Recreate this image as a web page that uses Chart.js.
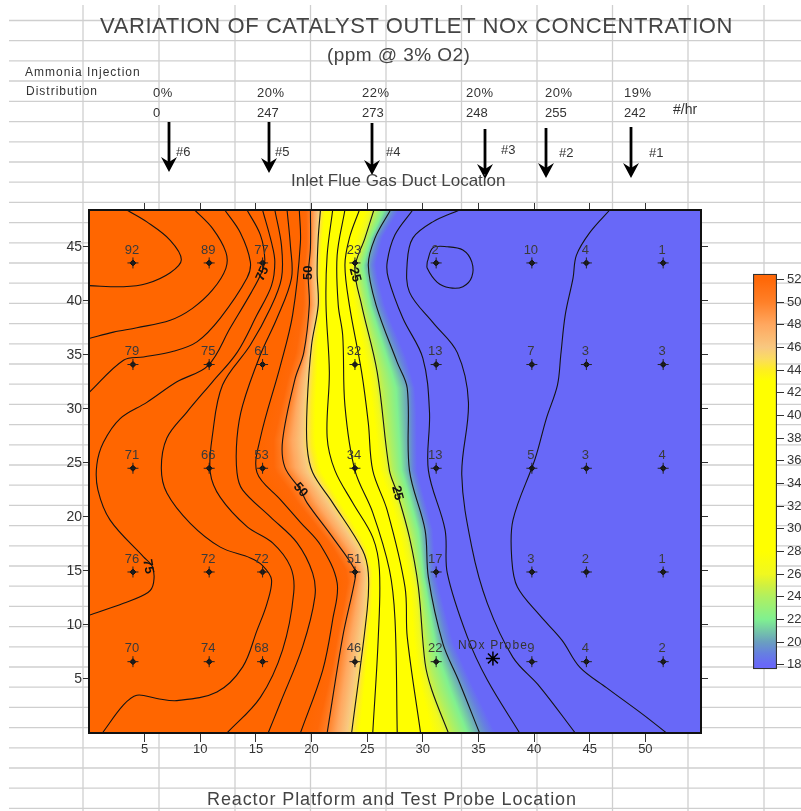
<!DOCTYPE html>
<html>
<head>
<meta charset="utf-8">
<title>Catalyst outlet NOx</title>
<script src="https://cdn.jsdelivr.net/npm/chart.js@4"></script>
<style>
  html, body { margin: 0; padding: 0; background: #fff; overflow: hidden; }
  #page { position: relative; width: 801px; height: 811px; overflow: hidden; font-family: "Liberation Sans", Arial, sans-serif; }
  canvas { position: absolute; }
  .txt { position: absolute; white-space: nowrap; color: #333; transform: translateY(-50%); }
</style>
</head>
<body>
<div id="page">
  <canvas id="myChart" width="801" height="811" style="left:0;top:0"></canvas>
  <canvas id="barChart" width="84" height="417" style="left:753px;top:263px"></canvas>
</div>
<script>
// probe grid
const probeX = [3.95, 10.8, 15.6, 23.9, 31.2, 39.8, 44.7, 51.6];
const probeY = [43.5, 34.1, 24.5, 14.9, 6.6];
const probeValues = [
  [92, 89, 77, 23, 2, 10, 4, 1],
  [79, 75, 61, 32, 13, 7, 3, 3],
  [71, 66, 53, 34, 13, 5, 3, 4],
  [76, 72, 72, 51, 17, 3, 2, 1],
  [70, 74, 68, 46, 22, 9, 4, 2]
];
const noxProbe = [{ x: 36.3, y: 6.9 }];

// contour lines, [x, y]
const line90 = [[3.4,48.4],[5.2,47.3],[7.3,45.6],[8.3,43.8],[7.3,42.6],[5.2,41.6],[3.1,41.3],[0,41.4]];
const line85 = [[9.5,48.4],[11.1,46.7],[12.3,44.5],[12.3,43.0],[11.1,41.0],[9.3,39.3],[7.3,38.2],[4.3,37.5],[2.2,37.1],[0,36.5]];
const line80 = [[12.2,48.4],[13.6,46.3],[14.5,43.6],[14.2,42.1],[11.8,38.4],[9.7,36.2],[7.5,35.3],[4.9,34.8],[3.1,34.5],[0,31.5]];
const line75 = [[14.2,48.4],[15.4,46.1],[15.8,43.8],[15.5,42.6],[14.6,40.8],[12.7,37.5],[10.7,34.0],[7.9,32.5],[5.2,30.6],[2.8,29.1],[1.3,26.9],[0.7,24.8],[0.8,22.5],[1.9,19.7],[4.9,16.3],[5.7,15.4],[5.8,13.9],[5.3,13.0],[3.1,12.0],[0,10.9]];
const line70 = [[15.6,48.4],[16.4,45.4],[16.7,43.6],[16.4,41.4],[15.1,38.7],[13.3,35.2],[11.1,32.5],[8.8,29.7],[7.0,27.3],[6.5,24.5],[7.0,22.2],[9.1,19.4],[11.8,17.2],[14.5,16.2],[15.6,15.5],[16.4,14.2],[16.0,12.0],[15.1,9.5],[13.8,6.1],[11.5,3.8],[7.9,3.0],[6.1,3.2],[4.3,3.5],[3.1,2.6],[1.2,0]];
const line65 = [[16.7,48.4],[17.3,45.1],[17.3,42.1],[16.3,39.3],[14.5,35.9],[12.0,32.2],[11.1,27.6],[10.9,24.1],[11.8,21.8],[14.2,19.1],[16.5,17.6],[18.1,15.4],[18.4,13.0],[17.4,7.7],[15.4,3.3],[12.4,0]];
const line60 = [[17.8,48.4],[18.1,45.1],[18.2,42.1],[16.9,38.4],[15.4,35.0],[13.8,30.3],[13.3,27.3],[13.3,24.1],[13.8,22.5],[16.3,20.0],[18.7,17.6],[20.1,14.8],[20.3,12.6],[19.2,8.0],[17.2,2.8],[16.1,0]];
const line55 = [[18.9,48.4],[19.0,45.4],[18.3,38.7],[17.2,34.0],[15.4,27.3],[15.1,24.1],[17.2,21.6],[19.0,19.5],[20.8,17.4],[22.3,13.9],[21.9,10.5],[21.0,5.8],[19.0,0]];
const line50 = [[19.9,48.4],[19.9,44.9],[19.7,42.4],[19.8,39.6],[19.3,35.2],[18.5,32.7],[17.4,27.1],[17.6,24.6],[19.0,22.5],[19.6,21.3],[21.9,18.1],[23.9,15.1],[23.9,14.2],[22.8,8.9],[21.4,0]];
const line45 = [[20.8,48.4],[20.6,45.8],[20.5,42.6],[20.6,39.6],[20.0,35.9],[19.6,30.3],[19.6,26.5],[20.1,24.1],[21.9,21.3],[24.6,16.9],[25.1,14.8],[25.0,11.4],[23.6,0]];
const line40 = [[21.9,48.4],[21.4,44.2],[21.3,39.6],[21.6,33.4],[21.4,27.4],[22.1,24.3],[23.7,21.3],[25.5,18.1],[26.1,15.1],[26.0,8.9],[25.5,0]];
const line35 = [[23.0,48.4],[22.3,44.2],[22.4,39.6],[22.8,36.8],[23.0,30.3],[23.9,24.3],[25.5,20.4],[27.0,15.1],[27.5,10.5],[27.7,0]];
const line30 = [[24.3,48.4],[23.4,45.8],[23.0,43.3],[23.4,39.6],[24.5,33.4],[25.1,28.7],[25.5,24.3],[26.8,20.6],[28.4,13.5],[28.6,8.9],[29.8,0]];
const line25 = [[25.6,48.4],[24.8,45.8],[23.9,43.0],[24.5,39.6],[25.9,33.4],[27.0,24.3],[27.7,22.2],[28.8,18.1],[29.6,13.5],[30.2,6.5],[30.8,4.0],[32.3,0]];
const line20 = [[27.1,48.4],[25.7,45.8],[25.1,43.3],[25.8,39.6],[27.7,34.3],[28.6,31.9],[28.8,24.3],[30.2,18.8],[30.5,14.4],[31.8,8.3],[33.2,4.9],[35.1,0]];
const line15 = [[29.1,48.4],[27.5,46.1],[26.8,43.6],[26.9,42.1],[28.2,38.4],[30.0,34.7],[30.6,29.7],[30.5,24.3],[32.0,18.8],[32.2,14.8],[34.0,8.9],[35.8,4.9],[38.7,0]];
const line10 = [[33.3,48.4],[30.9,47.3],[29.1,45.8],[28.6,43.6],[28.8,40.8],[30.9,38.0],[33.1,35.2],[34.1,30.6],[33.5,23.9],[34.4,17.2],[35.8,12.0],[38.1,7.0],[40.5,4.3],[43.7,0]];
const line5 = [[46.8,48.4],[45.0,46.3],[43.8,44.2],[43.5,42.1],[42.8,38.7],[42.4,35.0],[42.1,32.2],[41.1,29.1],[40.1,25.4],[38.1,19.7],[38.0,16.0],[38.5,13.5],[40.5,10.9],[42.5,8.6],[44.1,6.1],[46.5,4.2],[49.8,1.7],[51.9,0]];
const loop5 = [[30.4,43.6],[30.9,44.9],[32.2,45.0],[33.6,44.7],[34.4,43.6],[34.4,42.2],[33.6,41.3],[32.4,41.2],[31.3,41.7],[30.4,43.0],[30.4,43.6]];

const allLines = [line90, line85, line80, line75, line70, line65, line60, line55, line50, line45, line40, line35, line30, line25, line20, line15, line10, line5, loop5];
// these ones run top to bottom and set the colour field
const fieldLevels = [55, 50, 45, 40, 35, 30, 25, 20, 15];
const fieldLines = [line55, line50, line45, line40, line35, line30, line25, line20, line15];

const contourLabels = [
  { text: '75', x: 15.6, y: 42.5, rot: -65 },
  { text: '75', x: 5.3, y: 15.4, rot: 80 },
  { text: '50', x: 19.7, y: 42.6, rot: -90 },
  { text: '50', x: 19.0, y: 22.5, rot: 50 },
  { text: '25', x: 23.9, y: 42.4, rot: 75 },
  { text: '25', x: 27.7, y: 22.2, rot: 75 }
];

// colour scale
const colorLevels = [55, 52, 50, 48, 46, 45, 44, 43, 28, 26, 25, 24, 22, 20, 19, 18, 15];
const colorStops = ['#ff6600', '#ff6808', '#ff8028', '#ffa860', '#f8c880', '#fbdc60', '#feef20', '#ffff00', '#ffff00', '#f0f820', '#d0f040', '#b0f060', '#80f090', '#6a9fc0', '#6680e0', '#6868f8', '#6868f8'];
const barTicks = [18, 20, 22, 24, 26, 28, 30, 32, 34, 36, 38, 40, 42, 44, 46, 48, 50, 52];
const barRange = [17.6, 52.5];

const xTicks = [5, 10, 15, 20, 25, 30, 35, 40, 45, 50];
const yTicks = [5, 10, 15, 20, 25, 30, 35, 40, 45];

// spreadsheet cell lines behind the chart
const sheetCols = [83, 159, 235, 310.5, 386, 461.5, 537, 612.5, 688, 764];
const sheetRows = [20.5, 40.7, 60.9, 81, 101.3, 121.6, 141.8, 162, 182.2, 202.4, 222.6, 242.8, 263, 283.2, 303.4, 323.6, 343.8, 364, 384.2, 404.4, 424.6, 444.8, 465, 485.2, 505.4, 525.6, 545.8, 566, 586.2, 606.4, 626.6, 646.8, 667, 687.2, 707.4, 727.6, 747.8, 768, 788.2, 808.4];

// injection lance arrows: x, top, bottom in page pixels
const arrows = [[169, 122, 172], [269, 122, 173], [372, 123, 175], [485, 129, 179], [546, 128, 178], [631, 127, 178]];

const pageTexts = [
  { t: 'VARIATION OF CATALYST OUTLET NOx CONCENTRATION', x: 100, y: 26, size: 22, ls: 0.6, color: '#444' },
  { t: '(ppm @ 3% O2)', x: 327, y: 55, size: 19, ls: 0.45, color: '#444' },
  { t: 'Ammonia Injection', x: 25, y: 72, size: 12, ls: 1 },
  { t: 'Distribution', x: 26, y: 91, size: 12, ls: 1 },
  { t: '0%', x: 153, y: 92, size: 13, ls: 0.5 }, { t: '20%', x: 257, y: 92, size: 13, ls: 0.5 }, { t: '22%', x: 362, y: 92, size: 13, ls: 0.5 },
  { t: '20%', x: 466, y: 92, size: 13, ls: 0.5 }, { t: '20%', x: 545, y: 92, size: 13, ls: 0.5 }, { t: '19%', x: 624, y: 92, size: 13, ls: 0.5 },
  { t: '0', x: 153, y: 112, size: 13 }, { t: '247', x: 257, y: 112, size: 13 }, { t: '273', x: 362, y: 112, size: 13 },
  { t: '248', x: 466, y: 112, size: 13 }, { t: '255', x: 545, y: 112, size: 13 }, { t: '242', x: 624, y: 112, size: 13 },
  { t: '#/hr', x: 673, y: 109, size: 14 },
  { t: '#6', x: 176, y: 151, size: 13 }, { t: '#5', x: 275, y: 151, size: 13 }, { t: '#4', x: 386, y: 151, size: 13 },
  { t: '#3', x: 501, y: 149, size: 13 }, { t: '#2', x: 559, y: 152, size: 13 }, { t: '#1', x: 649, y: 152, size: 13 },
  { t: 'Inlet Flue Gas Duct Location', x: 291, y: 181, size: 17, color: '#444' },
  { t: 'Reactor Platform and Test Probe Location', x: 207, y: 799, size: 18, ls: 0.9, color: '#444' },
  { t: 'NOx Probe', x: 458, y: 645, size: 12, ls: 1.2 }
];

const page = document.getElementById('page');
pageTexts.forEach((p) => {
  const d = document.createElement('div');
  d.className = 'txt';
  d.textContent = p.t;
  d.style.left = p.x + 'px';
  d.style.top = p.y + 'px';
  d.style.fontSize = p.size + 'px';
  if (p.ls) d.style.letterSpacing = p.ls + 'px';
  if (p.color) d.style.color = p.color;
  page.appendChild(d);
});

const xAtY = (line, y) => {
  for (let i = 0; i < line.length - 1; i++) {
    const a = line[i], b = line[i + 1];
    if (y <= a[1] && y >= b[1]) {
      return a[0] + (b[0] - a[0]) * (a[1] - y) / ((a[1] - b[1]) || 1);
    }
  }
  return y > line[0][1] ? line[0][0] : line[line.length - 1][0];
};

const levelToX = (level, y) => {
  for (let i = 0; i < fieldLevels.length - 1; i++) {
    if (level <= fieldLevels[i] && level >= fieldLevels[i + 1]) {
      const x0 = xAtY(fieldLines[i], y), x1 = xAtY(fieldLines[i + 1], y);
      return x0 + (x1 - x0) * (fieldLevels[i] - level) / 5;
    }
  }
  return 0;
};

const fieldPlugin = {
  id: 'field',
  beforeDraw(chart) {
    const c = chart.ctx;
    c.save();
    c.strokeStyle = '#cfcfcf';
    c.lineWidth = 1.3;
    sheetCols.forEach((x) => { c.beginPath(); c.moveTo(x, 5); c.lineTo(x, 811); c.stroke(); });
    sheetRows.forEach((y) => { c.beginPath(); c.moveTo(9, y); c.lineTo(801, y); c.stroke(); });
    c.restore();
  },
  beforeDatasetsDraw(chart) {
    const c = chart.ctx;
    const { left, right, top, bottom } = chart.chartArea;
    const xs = chart.scales.x, ys = chart.scales.y;
    c.save();
    for (let py = Math.floor(top); py < bottom; py++) {
      const y = ys.getValueForPixel(py + 0.5);
      const g = c.createLinearGradient(left, 0, right, 0);
      let last = 0;
      colorLevels.forEach((lv, i) => {
        const f = (xs.getPixelForValue(levelToX(lv, y)) - left) / (right - left);
        last = Math.min(1, Math.max(last, f));
        g.addColorStop(last, colorStops[i]);
      });
      c.fillStyle = g;
      c.fillRect(left, py, right - left, 1);
    }
    c.restore();
  },
  afterDatasetsDraw(chart) {
    const c = chart.ctx;
    const xs = chart.scales.x, ys = chart.scales.y;
    c.save();
    // probe numbers
    c.font = '13px "Liberation Sans", Arial, sans-serif';
    c.fillStyle = '#3a3a3a';
    c.textAlign = 'center';
    c.textBaseline = 'middle';
    probeValues.forEach((row, r) => {
      row.forEach((v, i) => {
        c.fillText(String(v), xs.getPixelForValue(probeX[i]) - 1, ys.getPixelForValue(probeY[r]) - 13);
      });
    });
    // contour labels
    c.font = 'bold 13px "Liberation Sans", Arial, sans-serif';
    c.fillStyle = '#111';
    contourLabels.forEach((l) => {
      c.save();
      c.translate(xs.getPixelForValue(l.x), ys.getPixelForValue(l.y));
      c.rotate(l.rot * Math.PI / 180);
      c.fillText(l.text, 0, 0);
      c.restore();
    });
    // lance arrows
    c.fillStyle = '#000';
    arrows.forEach(([x, y0, y1]) => {
      c.fillRect(x - 1.4, y0, 2.8, y1 - y0 - 8);
      c.beginPath();
      c.moveTo(x, y1);
      c.lineTo(x - 8, y1 - 15);
      c.lineTo(x, y1 - 10);
      c.lineTo(x + 8, y1 - 15);
      c.closePath();
      c.fill();
    });
    c.restore();
  }
};

const toPoints = (line) => line.map((p) => ({ x: p[0], y: p[1] }));
const probePoints = [];
probeY.forEach((y) => probeX.forEach((x) => probePoints.push({ x, y })));

const datasets = allLines.map((line) => ({
  data: toPoints(line),
  showLine: true,
  borderColor: '#141414',
  borderWidth: 1.1,
  tension: 0.35,
  pointRadius: 0
}));
datasets.push({ data: probePoints, pointStyle: 'cross', pointRadius: 5.5, borderColor: '#222', borderWidth: 1, showLine: false });
datasets.push({ data: probePoints, pointStyle: 'rectRot', pointRadius: 3, backgroundColor: '#111', borderColor: '#111', showLine: false });
datasets.push({ data: noxProbe, pointStyle: 'star', pointRadius: 7, borderColor: '#000', borderWidth: 1.5, showLine: false });

const axisFont = { family: '"Liberation Sans", Arial, sans-serif', size: 13 };
const pinned = (prop, val) => (scale) => { scale[prop] = val; };
const setTicks = (list) => (scale) => { scale.ticks = list.map((value) => ({ value })); };
const axisBorder = { display: true, color: '#111', width: 2, z: 1 };
const tickGrid = (len) => ({ drawOnChartArea: false, drawTicks: true, tickLength: len, color: '#333', lineWidth: 1 });

new Chart(document.getElementById('myChart').getContext('2d'), {
  type: 'scatter',
  data: { datasets },
  plugins: [fieldPlugin],
  options: {
    responsive: false,
    animation: false,
    layout: { padding: { left: 0, top: 202, right: 92, bottom: 0 } },
    plugins: { legend: { display: false }, tooltip: { enabled: false } },
    scales: {
      x: {
        border: axisBorder, grid: tickGrid(9), type: 'linear', position: 'bottom', min: 0, max: 55,
        afterBuildTicks: setTicks(xTicks), afterFit: pinned('height', 78),
        ticks: { font: axisFont, color: '#333', padding: 0, maxRotation: 0 }
      },
      x2: {
        border: axisBorder, grid: tickGrid(7), type: 'linear', position: 'top', display: true, min: 0, max: 55,
        afterBuildTicks: setTicks(xTicks), afterFit: pinned('height', 8),
        ticks: { display: false }
      },
      y: {
        border: axisBorder, grid: tickGrid(6), type: 'linear', position: 'left', min: 0, max: 48.4,
        afterBuildTicks: setTicks(yTicks), afterFit: pinned('width', 89),
        ticks: { font: { family: axisFont.family, size: 14 }, color: '#333', padding: 1 }
      },
      y2: {
        border: axisBorder, grid: tickGrid(7), type: 'linear', position: 'right', display: true, min: 0, max: 48.4,
        afterBuildTicks: setTicks(yTicks), afterFit: pinned('width', 8),
        ticks: { display: false }
      }
    }
  }
});

// colour bar
new Chart(document.getElementById('barChart').getContext('2d'), {
  type: 'bar',
  data: {
    labels: ['NOx'],
    datasets: [{
      data: [barRange],
      barPercentage: 1,
      categoryPercentage: 1,
      borderColor: '#333',
      borderWidth: 1.5,
      borderSkipped: false,
      backgroundColor: (ctx) => {
        const { chart } = ctx;
        if (!chart.chartArea) return '#ff6600';
        const ys = chart.scales.y;
        const g = chart.ctx.createLinearGradient(0, ys.getPixelForValue(barRange[1]), 0, ys.getPixelForValue(barRange[0]));
        colorLevels.forEach((lv, i) => {
          const f = (lv - barRange[1]) / (barRange[0] - barRange[1]);
          if (f >= 0 && f <= 1) g.addColorStop(f, colorStops[i]);
        });
        return g;
      }
    }]
  },
  options: {
    responsive: false,
    animation: false,
    layout: { padding: { top: 10, bottom: 10, left: 0, right: 0 } },
    plugins: { legend: { display: false }, tooltip: { enabled: false } },
    scales: {
      x: { display: false },
      y: {
        position: 'right', min: barRange[0], max: barRange[1],
        afterBuildTicks: setTicks(barTicks), afterFit: pinned('width', 60),
        border: { display: false },
        grid: { drawOnChartArea: false, drawTicks: true, tickLength: 7, color: '#333' },
        ticks: { font: axisFont, color: '#333', padding: 3 }
      }
    }
  }
});
</script>
</body>
</html>
